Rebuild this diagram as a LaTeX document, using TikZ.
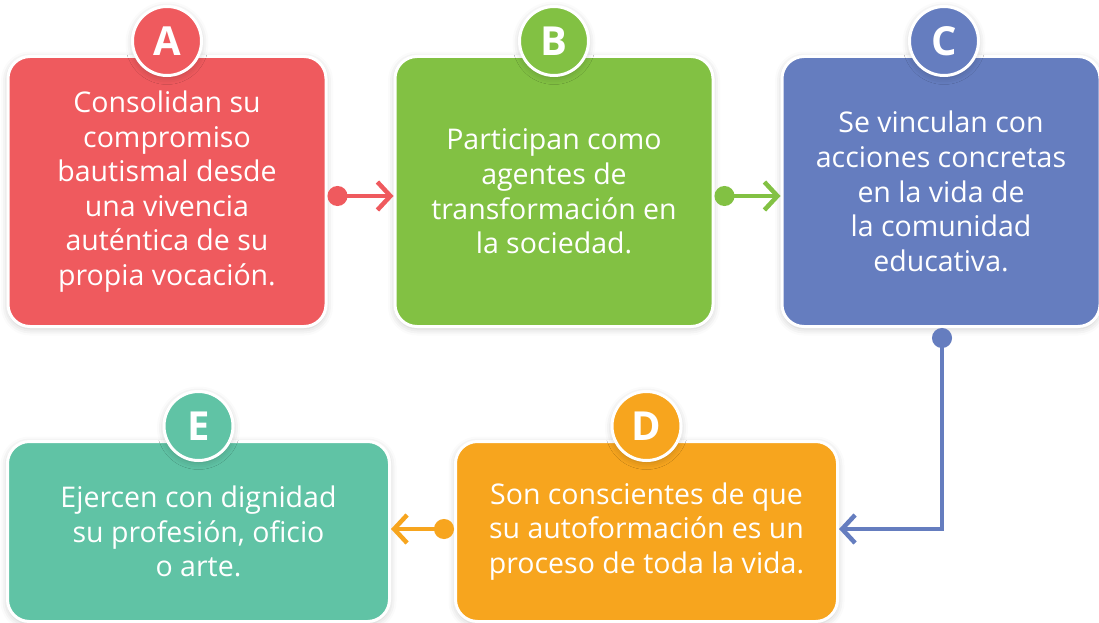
\documentclass[tikz,border=0pt]{standalone}
\usepackage{fontspec}
\setmainfont{Open Sans}
\usetikzlibrary{positioning,arrows.meta,shadows.blur}

\definecolor{cardA}{HTML}{EF5A5E}
\definecolor{cardB}{HTML}{82C143}
\definecolor{cardC}{HTML}{657DBF}
\definecolor{cardD}{HTML}{F7A51E}
\definecolor{cardE}{HTML}{60C3A5}

\tikzset{
  softshadow/.style={blur shadow={shadow xshift=0pt, shadow yshift=-2pt, shadow blur radius=7pt, shadow opacity=22}},
  card/.style={rectangle, rounded corners=22pt, draw=white, line width=3pt, text=white,
    align=center, font=\fontsize{28.5}{34.6}\selectfont, softshadow},
  topcard/.style={card, minimum width=318pt, minimum height=270pt},
  lowcard/.style={card, minimum width=382pt, minimum height=180pt},
  badge/.style={circle, draw=white, line width=3pt, minimum size=69pt, inner sep=0pt,
    text=white, font=\fontsize{40}{40}\selectfont\bfseries, softshadow},
  link/.style={line width=4.5pt, {Circle[length=20pt]}-{Straight Barb[length=13pt,width=28pt]}},
}

\begin{document}
\begin{tikzpicture}[x=1pt, y=-1pt, node distance=66pt]
  \useasboundingbox (0,0) rectangle (1099,623);

  % upper row
  \node[topcard, fill=cardA] (A) at (167,191.5) {Consolidan su\\compromiso\\bautismal desde\\una vivencia\\auténtica de su\\propia vocación.};
  \node[topcard, fill=cardB, right=of A] (B) {Participan como\\agentes de\\transformación en\\la sociedad.};
  \node[topcard, fill=cardC, right=of B] (C) {Se vinculan con\\acciones concretas\\en la vida de\\la comunidad\\educativa.};

  % lower row
  \node[lowcard, fill=cardE] (E) at (198.5,531.5) {Ejercen con dignidad\\su profesión, oficio\\o arte.};
  \node[lowcard, fill=cardD, right=63pt of E] (D) {Son conscientes de que\\su autoformación es un\\proceso de toda la vida.};

  % letters
  \node[badge, fill=cardA] (a) at ([yshift=14pt]A.north) {A};
  \node[badge, fill=cardB] (b) at ([yshift=14pt]B.north) {B};
  \node[badge, fill=cardC] (c) at ([xshift=3pt, yshift=14pt]C.north) {C};
  \node[badge, fill=cardD] (d) at ([yshift=14pt]D.north) {D};
  \node[badge, fill=cardE] (e) at ([yshift=14pt]E.north) {E};

  % connectors
  \draw[link, cardA] ([yshift=-4.5pt]A.east) -- ([yshift=-4.5pt]B.west);
  \draw[link, cardB] ([yshift=-4.5pt]B.east) -- ([yshift=-4.5pt]C.west);
  \draw[link, cardC] ([xshift=1pt]C.south) |- ([yshift=2.5pt]D.east);
  \draw[link, cardD] ([yshift=2.5pt]D.west) -- ([yshift=2.5pt]E.east);
\end{tikzpicture}
\end{document}
